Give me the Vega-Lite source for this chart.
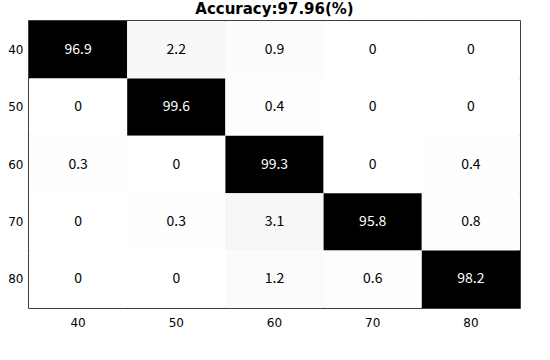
{
  "$schema": "https://vega.github.io/schema/vega-lite/v6.json",
  "autosize": "none",
  "width": 491,
  "height": 287,
  "padding": {"left": 29, "top": 21, "right": 30, "bottom": 52},
  "background": "white",
  "title": {"text": "Accuracy:97.96(%)", "fontSize": 15, "fontWeight": "bold", "font": "DejaVu Sans", "color": "#000", "offset": 4},
  "config": {"view": {"stroke": "#000", "strokeWidth": 1.5}},
  "data": {"values": [
    {"row": "40", "col": "40", "v": 96.9}, {"row": "40", "col": "50", "v": 2.2}, {"row": "40", "col": "60", "v": 0.9}, {"row": "40", "col": "70", "v": 0}, {"row": "40", "col": "80", "v": 0},
    {"row": "50", "col": "40", "v": 0}, {"row": "50", "col": "50", "v": 99.6}, {"row": "50", "col": "60", "v": 0.4}, {"row": "50", "col": "70", "v": 0}, {"row": "50", "col": "80", "v": 0},
    {"row": "60", "col": "40", "v": 0.3}, {"row": "60", "col": "50", "v": 0}, {"row": "60", "col": "60", "v": 99.3}, {"row": "60", "col": "70", "v": 0}, {"row": "60", "col": "80", "v": 0.4},
    {"row": "70", "col": "40", "v": 0}, {"row": "70", "col": "50", "v": 0.3}, {"row": "70", "col": "60", "v": 3.1}, {"row": "70", "col": "70", "v": 95.8}, {"row": "70", "col": "80", "v": 0.8},
    {"row": "80", "col": "40", "v": 0}, {"row": "80", "col": "50", "v": 0}, {"row": "80", "col": "60", "v": 1.2}, {"row": "80", "col": "70", "v": 0.6}, {"row": "80", "col": "80", "v": 98.2}
  ]},
  "encoding": {
    "x": {"field": "col", "type": "ordinal", "sort": ["40","50","60","70","80"], "scale": {"paddingInner": 0, "paddingOuter": 0},
          "axis": {"title": null, "labelAngle": 0, "ticks": false, "domain": false, "labelPadding": 9, "labelFontSize": 12, "labelColor": "#000", "labelFont": "DejaVu Sans"}},
    "y": {"field": "row", "type": "ordinal", "sort": ["40","50","60","70","80"], "scale": {"paddingInner": 0, "paddingOuter": 0},
          "axis": {"title": null, "ticks": false, "domain": false, "labelPadding": 6, "labelFontSize": 12, "labelColor": "#000", "labelFont": "DejaVu Sans"}}
  },
  "layer": [
    {"mark": {"type": "rect"},
     "encoding": {"color": {"field": "v", "type": "quantitative", "scale": {"domain": [0, 95], "clamp": true, "range": ["#ffffff", "#000000"]}, "legend": null}}},
    {"mark": {"type": "text", "fontSize": 14, "font": "Noto Sans CJK SC"},
     "encoding": {"text": {"field": "v", "type": "quantitative", "format": "~r"},
                  "color": {"condition": {"test": "datum.v > 50", "value": "white"}, "value": "black"}}}
  ]
}
